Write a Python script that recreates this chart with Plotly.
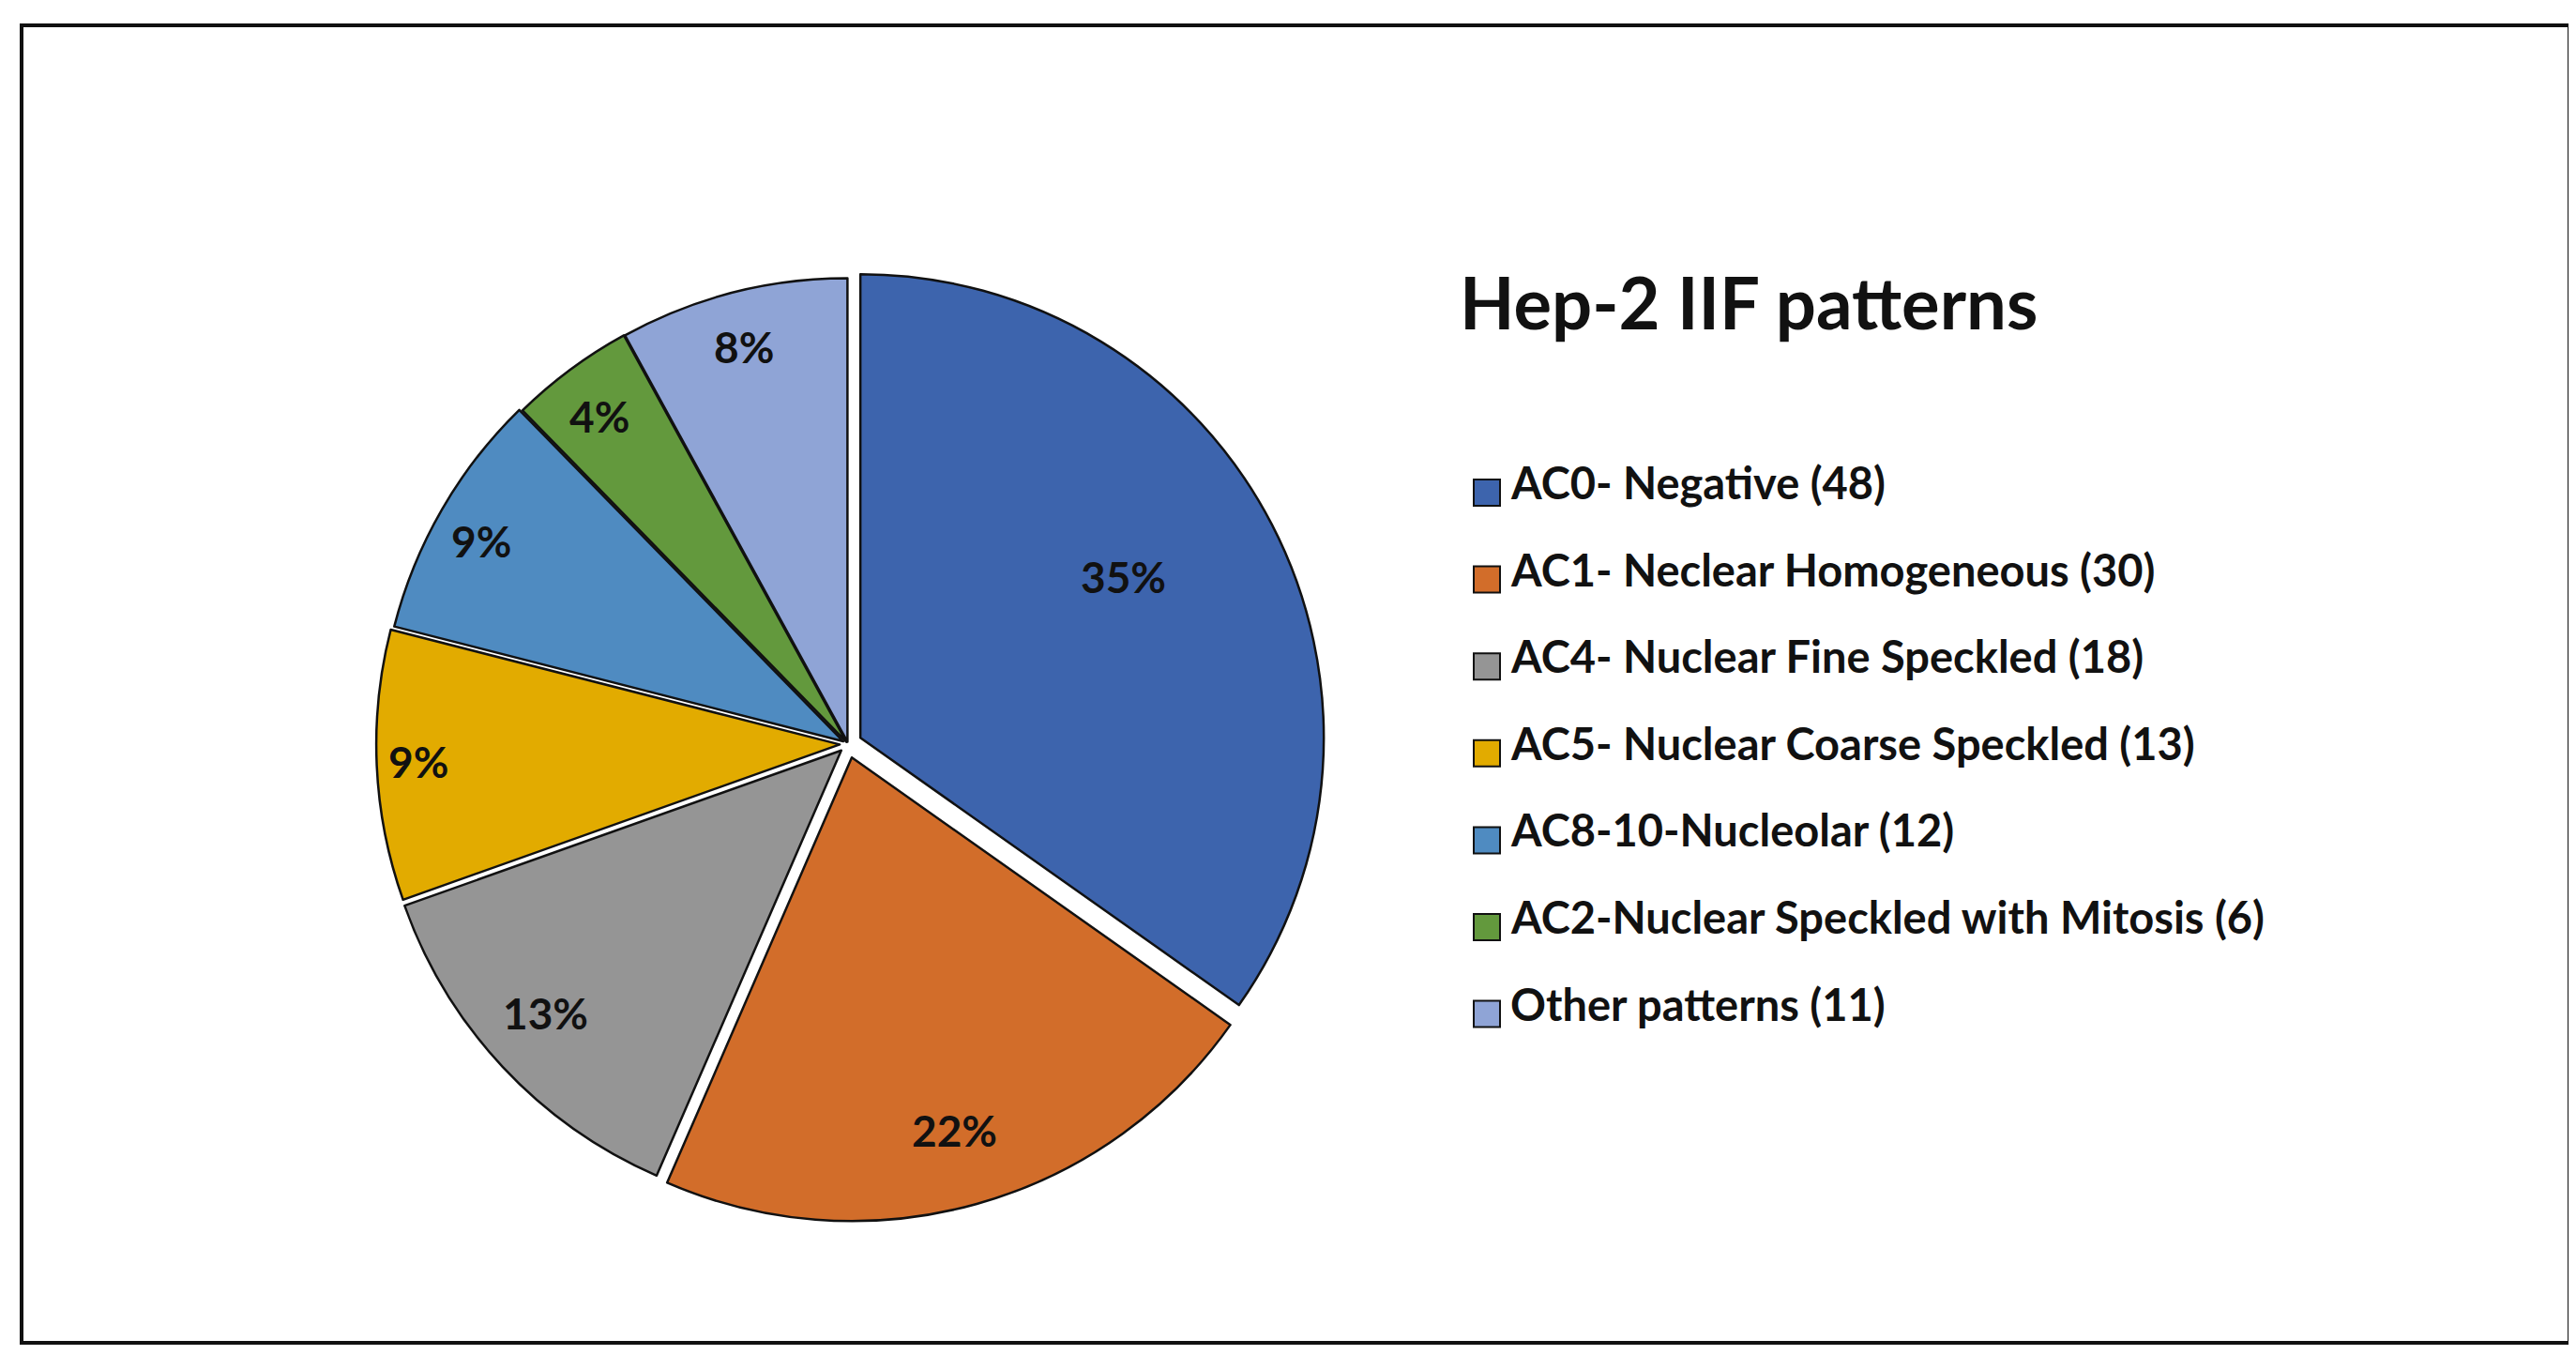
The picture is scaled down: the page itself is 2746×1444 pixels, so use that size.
import math
import plotly.graph_objects as go

W, H = 2746, 1444

labels = [
    "AC0- Negative (48)",
    "AC1- Neclear Homogeneous (30)",
    "AC4- Nuclear Fine Speckled (18)",
    "AC5- Nuclear Coarse Speckled (13)",
    "AC8-10-Nucleolar (12)",
    "AC2-Nuclear Speckled with Mitosis (6)",
    "Other patterns (11)",
]
values = [48, 30, 18, 13, 12, 6, 11]
colors = ["#3D64AD", "#D26D2A", "#959595", "#E2AB00", "#4F8BC1", "#63993D", "#8FA4D6"]
legend_title = "Hep-2 IIF patterns"

# styling (not data): slice explosion, label radius (fraction of pie radius), label nudges (px)
pulls = [0.03, 0.03, 0.02, 0.018, 0.012, 0.006, 0.005]
label_radius = [0.65, 0.86, 0.86, 0.90, 0.89, 0.88, 0.86]
label_dy = [-18, -6, -4, 4, 12, 8, -4]

FONT = "Lato"
INK = "#111111"

# pie geometry (pixels)
cx, cy, r = 896, 785, 494
half = r * (1 + max(pulls))
dom_x = [(cx - half) / W, (cx + half) / W]
dom_y = [1 - (cy + half) / H, 1 - (cy - half) / H]

total = sum(values)
pct_text = [f"{round(100 * v / total)}%" for v in values]

fig = go.Figure(go.Pie(
    labels=labels,
    values=values,
    sort=False,
    direction="clockwise",
    rotation=0,
    pull=pulls,
    marker=dict(colors=colors, line=dict(color=INK, width=2.5)),
    textinfo="none",
    showlegend=False,
    hoverinfo="label+percent",
    domain=dict(x=dom_x, y=dom_y),
))

shapes = [dict(type="rect", xref="paper", yref="paper",
               x0=15 / W, x1=2731 / W, y0=1 - 1423 / H, y1=1 - 19 / H,
               line=dict(color=INK, width=4), fillcolor="rgba(0,0,0,0)")]
annotations = [dict(text=legend_title, xref="paper", yref="paper",
                    x=1546 / W, y=1 - 313 / H, xanchor="left", yanchor="middle",
                    showarrow=False,
                    font=dict(family=FONT, size=76, color=INK, weight=700))]

# percentage labels at each slice's mid-angle
cum = 0
for v, t, f, p, dy in zip(values, pct_text, label_radius, pulls, label_dy):
    theta = 2 * math.pi * (cum + v / 2) / total
    cum += v
    rr = (f + p) * r
    px = cx + rr * math.sin(theta) - 5
    py = cy - rr * math.cos(theta) - 6 + dy
    annotations.append(dict(text=t, xref="paper", yref="paper",
                            x=px / W, y=1 - py / H, xanchor="center", yanchor="middle",
                            showarrow=False,
                            font=dict(family=FONT, size=46, color=INK, weight=700)))

# legend
row0, step = 517, 92.6
sq = 28
for i, (lab, col) in enumerate(zip(labels, colors)):
    yc = row0 + i * step
    shapes.append(dict(type="rect", xref="paper", yref="paper",
                       x0=1563 / W, x1=(1563 + sq) / W,
                       y0=1 - (yc + sq / 2) / H, y1=1 - (yc - sq / 2) / H,
                       fillcolor=col, line=dict(color=INK, width=2)))
    annotations.append(dict(text=lab, xref="paper", yref="paper",
                            x=1600 / W, y=1 - (yc - 11) / H, xanchor="left", yanchor="middle",
                            showarrow=False,
                            font=dict(family=FONT, size=47, color=INK, weight=700)))

fig.update_layout(
    width=W, height=H,
    margin=dict(l=0, r=0, t=0, b=0),
    paper_bgcolor="white",
    plot_bgcolor="white",
    shapes=shapes,
    annotations=annotations,
)

fig.write_html("out.html")
